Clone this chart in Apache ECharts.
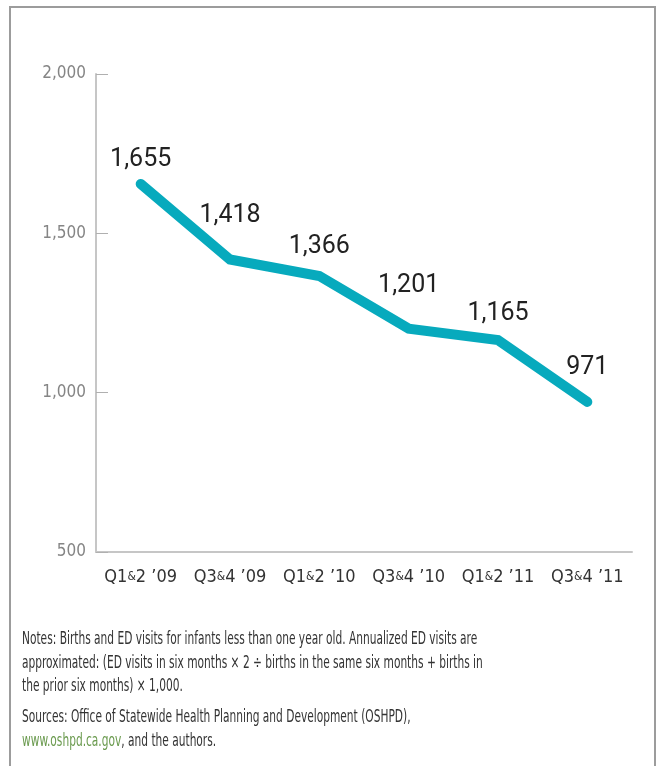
<!DOCTYPE html>
<html>
<head>
<meta charset="utf-8">
<script src="https://cdn.jsdelivr.net/npm/echarts@6/dist/echarts.min.js"></script>
<style>
    html, body { margin: 0; padding: 0; background: #fff; }
    #wrap { position: relative; width: 668px; height: 766px; overflow: hidden; }
    #frame {
        position: absolute; left: 9px; top: 6px; width: 647px; height: 820px;
        border: 2px solid #9c9c9c; box-sizing: border-box;
    }
    #chart { position: absolute; left: 0; top: 0; width: 668px; height: 766px; }
    .notes {
        position: absolute; left: 22px; width: 1000px; white-space: nowrap;
        font-family: 'DejaVu Sans Condensed', sans-serif;
        font-size: 17.5px; line-height: 23.5px; color: #333;
        transform: scaleX(0.675); transform-origin: left top;
    }
    .notes a { color: #6a9a4e; text-decoration: none; }
</style>
</head>
<body>
<div id="wrap">
    <div id="frame"></div>
    <div id="chart"></div>
    <div class="notes" style="top:627px">Notes: Births and ED visits for infants less than one year old. Annualized ED visits are<br>approximated: (ED visits in six months &times; 2 &divide; births in the same six months + births in<br>the prior six months) &times; 1,000.</div>
    <div class="notes" style="top:705px">Sources: Office of Statewide Health Planning and Development (OSHPD),<br><a>www.oshpd.ca.gov</a>, and the authors.</div>
</div>
<script>
// 半年期 ED 就诊率
const periods = ['Q1&2 \u201909', 'Q3&4 \u201909', 'Q1&2 \u201910', 'Q3&4 \u201910', 'Q1&2 \u201911', 'Q3&4 \u201911'];
const visits = [1655, 1418, 1366, 1201, 1165, 971];
const yTicks = [500, 1000, 1500, 2000];

const narrow = "'DejaVu Sans Condensed', sans-serif";

const chart = echarts.init(document.getElementById('chart'));

// 标签高低交错
const labelGap = [11, 31, 16, 30, 13, 21];

const option = {
    animation: false,
    grid: {
        left: 96,
        right: 36,
        top: 74,
        bottom: 214,
        containLabel: false,
        outerBoundsMode: 'none'
    },
    xAxis: {
        type: 'category',
        data: periods,
        boundaryGap: true,
        axisLine: { lineStyle: { color: '#c6c6c6', width: 2 } },
        axisTick: {
            inside: true,
            length: 12,
            interval: 0,
            alignWithLabel: true,
            lineStyle: { color: '#b0b0b0', width: 1 }
        },
        axisLabel: {
            margin: 16,
            interval: 0,
            formatter: function (v) {
                const i = v.indexOf('&');
                return '{a|' + v.slice(0, i) + '}{s|&}{a|' + v.slice(i + 1) + '}';
            },
            rich: {
                a: { fontFamily: narrow, fontSize: 18, color: '#333' },
                s: { fontFamily: narrow, fontSize: 12, color: '#333' }
            }
        }
    },
    yAxis: {
        type: 'value',
        min: yTicks[0],
        max: yTicks[yTicks.length - 1],
        interval: 500,
        axisLine: { show: true, lineStyle: { color: '#c6c6c6', width: 2 } },
        axisTick: {
            show: true,
            inside: true,
            length: 12,
            lineStyle: { color: '#b0b0b0', width: 1 }
        },
        splitLine: { show: false },
        axisLabel: {
            margin: 10,
            fontFamily: narrow,
            fontSize: 17,
            color: '#858585',
            formatter: function (v) { return v.toLocaleString('en-US'); }
        }
    },
    series: [{
        type: 'line',
        data: visits.map(function (v, i) {
            return { value: v, label: { distance: labelGap[i] } };
        }),
        symbol: 'circle',
        symbolSize: 1,
        itemStyle: { color: '#07aabd' },
        lineStyle: { color: '#07aabd', width: 10, cap: 'round', join: 'miter' },
        label: {
            show: true,
            position: 'top',
            fontFamily: 'Roboto, sans-serif',
            fontSize: 25,
            color: '#222',
            formatter: function (p) { return p.value.toLocaleString('en-US'); }
        }
    }]
};

chart.setOption(option);
</script>
</body>
</html>
